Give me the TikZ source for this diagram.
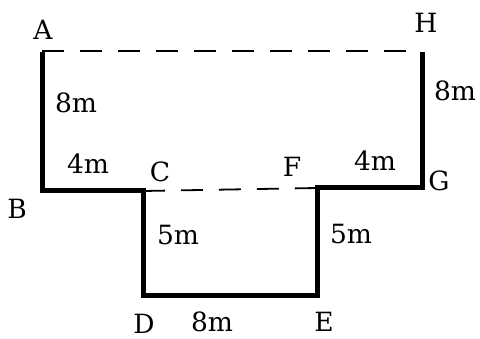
\documentclass[tikz,border=0pt]{standalone}
\usepackage{fontspec}
\setmainfont{DejaVu Serif}
\begin{document}
\begin{tikzpicture}[x=1pt,y=-1pt,
  wall/.style={line width=5pt,line join=miter,line cap=butt},
  open/.style={line width=1.8pt,dash pattern=on 22pt off 16pt},
  lbl/.style={inner sep=0pt,font=\fontsize{26.5}{30}\selectfont}]
\useasboundingbox (0,0) rectangle (480,339);
\coordinate (A) at (42,52);
\coordinate (B) at (42,191);
\coordinate (C) at (143,191);
\coordinate (D) at (143,296);
\coordinate (E) at (317,296);
\coordinate (F) at (317,188);
\coordinate (G) at (422,188);
\coordinate (H) at (422,52);
\draw[open] ([yshift=1pt]A) -- ([yshift=1pt]H);
\draw[open] (C) -- (F);
\draw[wall] (A) -- (B) -- (C) -- (D) -- (E) -- (F) -- (G) -- (H);
\node[lbl] (lA) at (43,30) {A};
\node[lbl] (lH) at (426,23) {H};
\node[lbl] (lB) at (17,209) {B};
\node[lbl] (lC) at (160,172) {C};
\node[lbl] (lF) at (292,167) {F};
\node[lbl] (lG) at (439,181) {G};
\node[lbl] (lD) at (144,324) {D};
\node[lbl] (lE) at (324,322) {E};
\node[lbl] (mAB) at (76,103) {8m};
\node[lbl] (mGH) at (455,91) {8m};
\node[lbl] (mBC) at (88,164) {4m};
\node[lbl] (mFG) at (375,161) {4m};
\node[lbl] (mCD) at (178,235) {5m};
\node[lbl] (mEF) at (351,234) {5m};
\node[lbl] (mDE) at (212,322) {8m};
\end{tikzpicture}
\end{document}
